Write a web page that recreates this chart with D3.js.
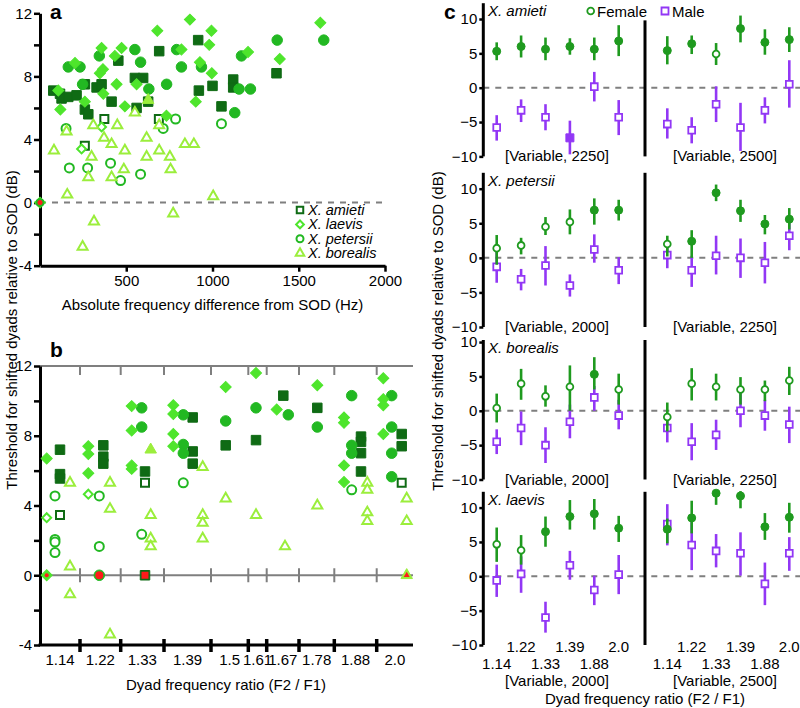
<!DOCTYPE html>
<html><head><meta charset="utf-8">
<script src="https://cdn.jsdelivr.net/npm/d3@7"></script>
<style>body{margin:0;background:#fff} text{font-family:"Liberation Sans",Arial,sans-serif;fill:#000}</style>
</head><body><svg id="chart" width="800" height="708"></svg>
<script>
// ---------------- DATA ----------------
// Panel a: [absolute frequency difference (Hz), threshold (dB), filled]
const amietiA = [[77,7.1,1],[116,6.9,1],[125,6.6,1],[164,6.7,1],[212,6.8,1],[260,7.5,1],[260,5.9,1],[280,5.6,1],[328,7.3,1],[357,7.5,1],[415,6.4,1],[454,9.0,1],[550,7.9,1],[598,7.9,1],[560,6.0,1],[627,6.4,1],[691,9.6,1],[917,10.3,1],[921,7.1,1],[1000,7.4,1],[1052,6.1,1],[1120,7.8,1],[1120,7.3,1],[1371,8.2,1],[260,3.6,0],[373,5.3,0],[689,5.3,0]];
const petersiiA = [[164,8.6,1],[232,8.6,1],[247,7.5,1],[344,9.3,1],[550,9.7,1],[583,8.9,1],[631,7.2,1],[734,7.5,1],[792,9.7,1],[820,8.6,1],[936,8.6,1],[1129,5.7,1],[1154,7.2,1],[1168,9.3,1],[1220,7.2,1],[1375,10.3,1],[1645,10.3,1],[151,4.7,0],[170,2.2,0],[276,2.2,0],[409,2.5,0],[467,1.4,0],[583,1.8,0],[714,4.7,0],[786,5.3,0],[1052,5.0,0]];
const laevisA = [[106,7.1,1],[118,5.9,1],[203,8.85,1],[260,6.4,1],[347,8.2,1],[365,8.45,1],[357,9.8,1],[367,6.9,1],[434,9.3,1],[444,7.5,1],[473,9.8,1],[492,6.1,1],[560,7.5,1],[680,10.9,1],[733,5.5,1],[820,9.7,1],[869,11.6,1],[903,6.4,1],[927,8.9,1],[981,10.0,1],[994,10.9,1],[996,8.2,1],[1206,9.55,1],[1390,9.1,1],[1625,11.4,1],[241,3.4,0],[357,4.8,0]];
const borealisA = [[81,3.3,0],[154,4.5,0],[158,0.5,0],[247,-2.8,0],[280,1.6,0],[299,2.9,0],[309,4.9,0],[313,-1.2,0],[371,4.1,0],[415,3.7,0],[415,1.6,0],[448,4.9,0],[492,3.3,0],[486,2.1,0],[550,5.7,0],[618,4.1,0],[618,2.9,0],[691,3.3,0],[691,4.9,0],[753,2.9,0],[757,2.1,0],[772,-0.7,0],[840,3.7,0],[892,3.7,0],[1004,0.4,0],[627,6.5,1]];
const xTicksA = [500,1000,1500,2000];

// Panel b: [ratio category index, threshold (dB), filled]
const ratioLabelsB = ["1.14","1.22","1.33","1.39","1.5","1.61","1.67","1.78","1.88","2.0"];
const laevisB = [[0,6.7,1],[0,3.3,0],[1,7.4,1],[1,6.95,1],[1,5.85,1],[1,4.65,0],[2,9.7,1],[2,8.3,1],[2,6.3,1],[2,6.1,1],[3,9.75,1],[3,9.25,1],[3,8.1,1],[3,7.4,1],[4,10.8,1],[5,11.6,1],[6,9.5,1],[7,10.9,1],[8,9.05,1],[8,8.75,1],[8,6.3,1],[8,5.35,1],[9,11.3,1],[9,10.1,1],[9,9.75,1],[9,8.1,1]];
const petersiiB = [[0,4.55,0],[0,2.05,0],[0,1.9,0],[0,1.3,0],[1,4.55,0],[1,1.65,0],[2,9.6,1],[2,8.5,1],[2,2.35,0],[3,9.2,1],[3,7.5,1],[3,7.0,1],[3,5.3,0],[4,8.85,1],[5,9.6,1],[6,9.2,1],[7,8.5,1],[8,10.3,1],[8,7.45,1],[8,7.0,1],[8,4.9,0],[9,10.3,1],[9,8.5,1],[9,7.0,1],[9,5.65,1]];
const amietiB = [[0,7.2,1],[0,5.8,1],[0,5.55,1],[0,3.45,0],[1,7.45,1],[1,6.8,1],[1,6.4,1],[2,5.95,1],[2,5.3,0],[3,9.05,1],[3,7.1,1],[3,6.4,1],[4,7.45,1],[5,7.75,1],[6,10.3,1],[7,9.6,1],[8,7.95,1],[8,7.65,1],[8,7.0,1],[8,5.95,1],[9,8.1,1],[9,7.4,1],[9,5.3,0]];
const borealisB = [[0,5.3,0],[0,0.5,0],[0,-1.1,0],[1,5.3,0],[1,3.8,0],[1,-3.4,0],[2,7.2,1],[2,3.45,0],[2,2.1,0],[2,1.65,0],[3,6.2,0],[3,3.45,0],[3,3.0,0],[3,2.1,0],[4,4.4,0],[5,3.45,0],[6,1.65,0],[7,4.0,0],[8,5.3,0],[8,4.9,0],[8,3.6,0],[8,3.1,0],[9,4.4,0],[9,3.1,0]];
const zeroRefB = [["laevis",0],["petersii",1],["amieti",2],["borealis",9]];

// Panel c: [mean, upper, lower, filled] for ratios below
const ratiosC = ["1.14","1.22","1.33","1.39","1.88","2.0"];
const amieti_female_2250 = [[5.3,6.6,4.0,1],[6.0,7.6,4.4,1],[5.6,7.3,4.0,1],[6.0,7.2,4.8,1],[5.6,7.3,4.0,1],[6.8,9.1,4.6,1]];
const amieti_male_2250   = [[-5.8,-4.0,-7.7,0],[-3.3,-1.7,-5.0,0],[-4.3,-2.4,-6.2,0],[-7.3,-4.8,-9.7,1],[0.15,2.3,-2.0,0],[-4.3,-1.8,-6.9,0]];
const amieti_female_2500 = [[5.4,7.5,3.4,1],[6.4,7.6,4.9,1],[4.9,6.5,3.3,0],[8.6,10.5,6.6,1],[6.6,8.5,4.8,1],[7.0,8.8,5.2,1]];
const amieti_male_2500   = [[-5.3,-3.0,-7.4,0],[-6.2,-4.3,-8.1,0],[-2.4,0.2,-5.0,0],[-5.8,-2.2,-9.2,0],[-3.3,-1.4,-5.2,0],[0.5,4.0,-2.9,0]];
const petersii_female_2000 = [[1.4,3.3,-1.0,0],[1.8,2.9,0.5,0],[4.5,5.9,3.3,0],[5.2,7.0,3.4,0],[6.9,8.6,4.8,1],[6.9,8.4,5.4,1]];
const petersii_male_2000   = [[-1.3,1.0,-3.6,0],[-3.1,-1.6,-4.7,0],[-1.1,1.7,-4.0,0],[-4.0,-2.4,-5.6,0],[1.2,3.4,-0.7,0],[-1.8,0.1,-3.8,0]];
const petersii_female_2250 = [[2.0,3.2,0.2,0],[2.4,4.0,0,1],[9.4,10.6,8.2,1],[6.8,8.4,5.2,1],[4.9,6.2,3.4,1],[5.6,7.2,4.1,1]];
const petersii_male_2250   = [[0.4,2.2,-1.5,0],[-1.8,0.3,-4.2,0],[0.3,3.2,-2.4,0],[0,2.8,-2.9,0],[-0.7,2.3,-3.7,0],[3.2,5.1,1.1,0]];
const borealis_female_2000 = [[0.4,2.5,-1.7,0],[3.95,6.1,1.6,0],[2.1,3.7,0.6,0],[3.5,6.6,0,0],[5.3,7.8,3.1,1],[3.1,5.4,0.9,0]];
const borealis_male_2000   = [[-4.5,-2.7,-6.3,0],[-2.5,-0.1,-5.0,0],[-5.0,-2.4,-7.6,0],[-1.6,0.9,-4.0,0],[1.95,3.6,0,0],[-0.7,1.6,-2.7,0]];
const borealis_female_2250 = [[-0.9,1.2,-3.0,0],[3.95,6.2,1.5,0],[3.5,5.4,1.5,0],[3.1,4.9,0.9,0],[3.1,4.4,1.4,0],[4.4,6.4,2.3,0]];
const borealis_male_2250   = [[-2.5,-1.1,-4.6,0],[-4.5,-1.8,-7.2,0],[-3.5,-1.3,-5.7,0],[0,2.6,-2.4,0],[-0.7,1.6,-2.9,0],[-2.0,0.6,-4.7,0]];
const laevis_female_2000 = [[4.65,7.1,2.1,0],[3.8,6.0,1.7,0],[6.5,8.7,4.3,1],[8.7,11.1,6.8,1],[9.1,11.25,6.8,1],[7.0,8.8,5.0,1]];
const laevis_male_2000   = [[-0.6,1.7,-3.0,0],[0.35,2.9,-2.4,0],[-6.0,-3.7,-8.2,0],[1.6,3.7,-0.5,0],[-2.0,0.1,-4.2,0],[0.25,3.1,-2.6,0]];
const laevis_female_2500 = [[6.85,8.4,4.8,1],[8.5,11.0,6.25,1],[12.1,12.1,10.4,1],[11.7,12.4,9.9,1],[7.2,9.2,5.3,1],[8.6,10.7,6.35,1]];
const laevis_male_2500   = [[7.6,10.5,4.5,0],[4.55,8.3,0.9,0],[3.7,6.15,1.3,0],[3.35,6.4,0.1,0],[-1.1,2.0,-4.2,0],[3.35,5.7,0.8,0]];
const yTicksC = [-10,-5,0,5,10];

// ---------------- STYLE / LAYOUT ----------------
const COL = {amieti:"#0f6b14", laevis:"#4ee52c", petersii:"#22b822", borealis:"#9bee3c"};
const SHAPE = {amieti:"square", laevis:"diamond", petersii:"circle", borealis:"triangle"};
const FEMALE = "#1f9a1f", MALE = "#9237f5", RED = "#ff1a1a", GREY = "#7f7f7f";
const svg = d3.select("#chart");

function symPath(shape, sz){
  if (shape==="square" || shape==="diamond") return d3.symbol(d3.symbolSquare, sz*sz)();
  if (shape==="circle") return d3.symbol(d3.symbolCircle, Math.PI*sz*sz/4)();
  return d3.symbol(d3.symbolTriangle, sz*sz*Math.sqrt(3)/4)();
}
function drawMarkers(g, pts, sp, fx, fy, sz){
  g.selectAll(null).data(pts).join("path")
    .attr("transform", d => `translate(${fx(d)},${fy(d)})` + (SHAPE[sp]==="diamond" ? " rotate(45)" : ""))
    .attr("d", d => symPath(SHAPE[sp], d[2] ? sz[SHAPE[sp]] : sz[SHAPE[sp]] - 1.5))
    .attr("fill", d => d[2] ? COL[sp] : "#fff")
    .attr("stroke", COL[sp]).attr("stroke-width", d => d[2] ? 1 : 2);
}
function styleAxis(g){
  g.select(".domain").attr("stroke","#000").attr("stroke-width",3);
  g.selectAll(".tick line").attr("stroke","#000").attr("stroke-width",2.5);
  g.selectAll(".tick text").style("font-size","15px").attr("fill","#000");
}
const SZ = {square:9.5, diamond:7.8, circle:10.5, triangle:11.5};

// ---------------- PANEL A ----------------
const xA = d3.scaleLinear().domain([0,2000]).range([40,385]);
const yA = d3.scaleLinear().domain([-4,12]).range([265.7,13.3]);
const gA = svg.append("g");
gA.append("line").attr("x1",xA(0)).attr("x2",xA(2000)).attr("y1",yA(0)).attr("y2",yA(0))
  .attr("stroke",GREY).attr("stroke-width",2).attr("stroke-dasharray","6,6");
const ayA = gA.append("g").attr("transform",`translate(${xA(0)},0)`)
  .call(d3.axisLeft(yA).tickValues(d3.range(-4,13,2)).tickFormat(d => d%4===0 ? d : "").tickSize(6).tickSizeOuter(0).tickPadding(2));
styleAxis(ayA);
const axA = gA.append("g").attr("transform",`translate(0,${yA(-4)})`)
  .call(d3.axisBottom(xA).tickValues(xTicksA).tickFormat(d3.format("d")).tickSize(6).tickSizeOuter(0).tickPadding(4));
styleAxis(axA);
const setsA = [["amieti",amietiA],["petersii",petersiiA],["laevis",laevisA],["borealis",borealisA]];
setsA.forEach(([sp,pts]) => drawMarkers(gA.append("g"), pts, sp, d => xA(d[0]), d => yA(d[1]), SZ));
drawMarkers(gA.append("g"), [[0,0,1]], "laevis", d => xA(d[0]), d => yA(d[1]), SZ);
drawMarkers(gA.append("g"), [[0,0,1]], "petersii", d => xA(d[0]), d => yA(d[1]), {circle:8});
gA.append("circle").attr("cx",xA(0)).attr("cy",yA(0)).attr("r",2.5).attr("fill",RED);
const legA = [["amieti","X. amieti"],["laevis","X. laevis"],["petersii","X. petersii"],["borealis","X. borealis"]];
legA.forEach(([sp,lab],i) => {
  const y = 210 + i*14.4;
  drawMarkers(gA.append("g"), [[0,0,0]], sp, () => 300, () => y, {square:8,diamond:7,circle:8.5,triangle:10});
  gA.append("text").attr("x",308).attr("y",y+5).style("font-size","14.5px").style("font-style","italic").text(lab);
});
gA.append("text").attr("x",xA(1000)).attr("y",310).attr("text-anchor","middle").style("font-size","15px")
  .text("Absolute frequency difference from SOD (Hz)");
svg.append("text").attr("x",50).attr("y",19).style("font-size","21px").style("font-weight","bold").text("a");

// ---------------- PANEL B ----------------
const edgesB = [0, 4.0, 8.07, 12.4, 17.1, 20.83, 22.67, 25.9, 29.43, 33.67, 37.3];
const colB = {
  laevis:  [0.67, 4.83, 9.17, 13.33, 18.57, 21.6, 23.67, 27.73, 30.4, 34.33],
  petersii:[1.5, 5.93, 10.17, 14.33, 18.57, 21.6, 24.83, 27.73, 31.17, 35.17],
  amieti:  [2.0, 6.33, 10.5, 15.27, 18.57, 21.6, 24.33, 27.73, 32.1, 36.17],
  borealis:[3.0, 7.0, 11.07, 16.27, 18.57, 21.6, 24.5, 27.73, 32.73, 36.67]
};
const xB = d3.scaleLinear().domain([0,37.3]).range([40,413]);
const yB = d3.scaleLinear().domain([-4,12]).range([645,366]);
const gB = svg.append("g");
const innerEdges = edgesB.slice(1,-1);
gB.append("line").attr("x1",xB(0)).attr("x2",xB(37.3)).attr("y1",yB(12)).attr("y2",yB(12)).attr("stroke",GREY).attr("stroke-width",2);
gB.selectAll(null).data(innerEdges).join("line").attr("x1",d=>xB(d)).attr("x2",d=>xB(d))
  .attr("y1",yB(12)).attr("y2",yB(12)+9).attr("stroke",GREY).attr("stroke-width",2);
gB.append("line").attr("x1",xB(0)).attr("x2",xB(37.3)).attr("y1",yB(0)).attr("y2",yB(0)).attr("stroke",GREY).attr("stroke-width",2);
gB.selectAll(null).data(innerEdges).join("line").attr("x1",d=>xB(d)).attr("x2",d=>xB(d))
  .attr("y1",yB(0)-7).attr("y2",yB(0)+7).attr("stroke",GREY).attr("stroke-width",2);
const ayB = gB.append("g").attr("transform",`translate(${xB(0)},0)`)
  .call(d3.axisLeft(yB).tickValues(d3.range(-4,13,2)).tickFormat(d => d%4===0 ? d : "").tickSize(6).tickSizeOuter(0).tickPadding(2));
styleAxis(ayB);
gB.append("line").attr("x1",xB(0)-1.5).attr("x2",xB(37.3)).attr("y1",yB(-4)).attr("y2",yB(-4)).attr("stroke","#000").attr("stroke-width",3);
gB.selectAll(null).data(innerEdges).join("line").attr("x1",d=>xB(d)).attr("x2",d=>xB(d))
  .attr("y1",yB(-4)-6).attr("y2",yB(-4)+7).attr("stroke","#000").attr("stroke-width",3.5);
gB.selectAll(null).data(ratioLabelsB).join("text")
  .attr("x",(d,i)=> xB((edgesB[i]+edgesB[i+1])/2)).attr("y",665).attr("text-anchor","middle")
  .style("font-size","15px").text(d=>d);
const setsB = [["amieti",amietiB],["petersii",petersiiB],["laevis",laevisB],["borealis",borealisB]];
setsB.forEach(([sp,pts]) => drawMarkers(gB.append("g"), pts, sp, d => xB(colB[sp][d[0]]), d => yB(d[1]), SZ));
zeroRefB.forEach(([sp,ci]) => {
  const cx = xB(colB[sp][ci]), cy = yB(0);
  drawMarkers(gB.append("g"), [[ci,0,1]], sp, () => cx, () => cy, SZ);
  const inner = {laevis:["circle",4], petersii:["circle",8], amieti:["square",7], borealis:["triangle",6]}[sp];
  gB.append("path").attr("transform",`translate(${cx},${cy})`).attr("d", symPath(inner[0], inner[1])).attr("fill",RED);
});
gB.append("text").attr("x",226).attr("y",690).attr("text-anchor","middle").style("font-size","15px").text("Dyad frequency ratio (F2 / F1)");
svg.append("text").attr("x",50).attr("y",357).style("font-size","21px").style("font-weight","bold").text("b");
svg.append("text").attr("transform","translate(17,330) rotate(-90)").attr("text-anchor","middle").style("font-size","15px")
  .text("Threshold for shifted dyads relative to SOD (dB)");

// ---------------- PANEL C ----------------
const rowsC = [
  {name:"X. amieti",  top:3.2,  bot:156.4, max:12.3, cond:["[Variable, 2250]","[Variable, 2500]"],
   data:[[amieti_female_2250,amieti_male_2250],[amieti_female_2500,amieti_male_2500]]},
  {name:"X. petersii",top:172.8,bot:327,   max:12.3, cond:["[Variable, 2000]","[Variable, 2250]"],
   data:[[petersii_female_2000,petersii_male_2000],[petersii_female_2250,petersii_male_2250]]},
  {name:"X. borealis",top:340,  bot:479.5, max:10.3, cond:["[Variable, 2000]","[Variable, 2250]"],
   data:[[borealis_female_2000,borealis_male_2000],[borealis_female_2250,borealis_male_2250]]},
  {name:"X. laevis",  top:491.8,bot:645,   max:12.3, cond:["[Variable, 2000]","[Variable, 2500]"],
   data:[[laevis_female_2000,laevis_male_2000],[laevis_female_2500,laevis_male_2500]]}
];
const axisXC = 483.3, divXC = 645;
const xCs = [d3.scalePoint().domain(ratiosC).range([496.7,618.7]), d3.scalePoint().domain(ratiosC).range([667.3,789.3])];
const condX = [557, 725];
const gC = svg.append("g");
rowsC.forEach((row, ri) => {
  const y = d3.scaleLinear().domain([-10,row.max]).range([row.bot,row.top]);
  const g = gC.append("g");
  g.append("line").attr("x1",axisXC).attr("x2",800).attr("y1",y(0)).attr("y2",y(0))
    .attr("stroke",GREY).attr("stroke-width",2).attr("stroke-dasharray","6,6");
  const ay = g.append("g").attr("transform",`translate(${axisXC},0)`)
    .call(d3.axisLeft(y).tickValues(yTicksC).tickSize(4).tickSizeOuter(0).tickPadding(2));
  styleAxis(ay);
  ay.select(".domain").attr("d",`M0,${row.top}V${row.bot}`);
  g.append("line").attr("x1",divXC).attr("x2",divXC).attr("y1", ri===0 ? y(9.8) : row.top).attr("y2",row.bot)
    .attr("stroke","#000").attr("stroke-width",3);
  g.append("text").attr("x",488).attr("y",row.top+13).style("font-size","15px").style("font-style","italic").text(row.name);
  row.data.forEach(([fem, mal], ci) => {
    const xs = xCs[ci];
    [[mal, MALE, "square"],[fem, FEMALE, "circle"]].forEach(([arr, col, shp]) => {
      const gg = g.append("g");
      gg.selectAll(null).data(arr).join("line")
        .attr("x1",(d,i)=>xs(ratiosC[i])).attr("x2",(d,i)=>xs(ratiosC[i]))
        .attr("y1",d=>y(d[1])).attr("y2",d=>y(d[2])).attr("stroke",col).attr("stroke-width",2.6);
      gg.selectAll(null).data(arr).join("path")
        .attr("transform",(d,i)=>`translate(${xs(ratiosC[i])},${y(d[0])})`)
        .attr("d", d => symPath(shp, d[3] ? 8 : 6.8))
        .attr("fill", d => d[3] ? col : "#fff").attr("stroke", col).attr("stroke-width", d => d[3] ? 1 : 1.8);
    });
    if (ri < 3) g.append("text").attr("x",condX[ci]).attr("y",row.bot+5).attr("text-anchor","middle").style("font-size","15px").text(row.cond[ci]);
    else {
      g.selectAll(null).data(ratiosC).join("text")
        .attr("x", d => xs(d)).attr("y",(d,i)=> i%2 ? 652 : 669).attr("text-anchor","middle")
        .style("font-size","15px").text(d=>d);
      g.append("text").attr("x",condX[ci]).attr("y",686).attr("text-anchor","middle").style("font-size","15px").text(row.cond[ci]);
    }
  });
});
gC.append("path").attr("transform","translate(590.7,11)").attr("d",symPath("circle",6.8)).attr("fill","#fff").attr("stroke",FEMALE).attr("stroke-width",1.8);
gC.append("text").attr("x",597).attr("y",16.5).style("font-size","15px").text("Female");
gC.append("path").attr("transform","translate(665,11)").attr("d",symPath("square",7)).attr("fill","#fff").attr("stroke",MALE).attr("stroke-width",1.8);
gC.append("text").attr("x",672).attr("y",16.5).style("font-size","15px").text("Male");
gC.append("text").attr("x",645).attr("y",704).attr("text-anchor","middle").style("font-size","15px").text("Dyad frequency ratio (F2 / F1)");
svg.append("text").attr("transform","translate(443,331) rotate(-90)").attr("text-anchor","middle").style("font-size","15px")
  .text("Threshold for shifted dyads relative to SOD (dB)");
svg.append("text").attr("x",444).attr("y",19).style("font-size","21px").style("font-weight","bold").text("c");
</script></body></html>
